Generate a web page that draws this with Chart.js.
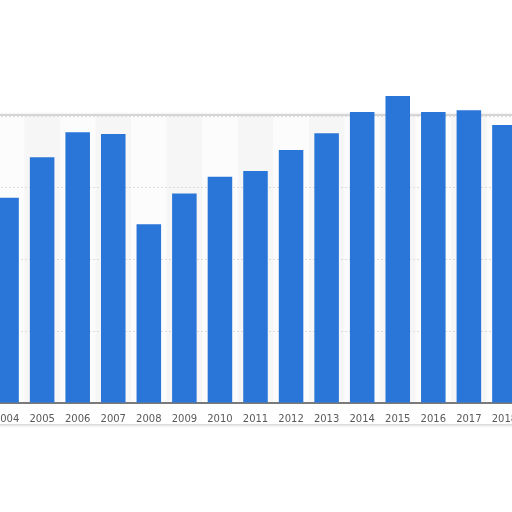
<!DOCTYPE html>
<html><head><meta charset="utf-8">
<script src="https://cdn.jsdelivr.net/npm/chart.js@4"></script>
<style>
html,body{margin:0;padding:0;width:512px;height:512px;overflow:hidden;background:#fff;}
#wrap{position:absolute;left:-16px;top:0;width:543px;height:512px;}
</style></head><body>
<div id="wrap"><canvas id="c" width="543" height="512"></canvas></div>
<script>
const years = ['2004','2005','2006','2007','2008','2009','2010','2011','2012','2013','2014','2015','2016','2017','2018'];
const values = [57.2,68.5,75.5,75.0,49.8,58.4,63.1,64.7,70.5,75.2,81.1,85.6,81.1,81.6,77.5];
const yMin = 0, yMax = 80, yStep = 20;

const framePlugin = {
  id:'frame',
  beforeDraw(chart){
    const {ctx, chartArea:a, scales:{x}} = chart;
    ctx.save();
    ctx.shadowColor='rgba(0,0,0,0.25)';
    ctx.shadowBlur=3;
    ctx.shadowOffsetY=1;
    ctx.fillStyle='#ffffff';
    ctx.fillRect(a.left, a.top-2, a.right-a.left, a.bottom-a.top+23);
    ctx.restore();
    ctx.save();
    ctx.fillStyle='#fcfcfc';
    ctx.fillRect(a.left, a.top, a.right-a.left, a.bottom-a.top);
    const w = (a.right-a.left)/years.length;
    years.forEach((y,i)=>{
      if(i%2===1){
        ctx.fillStyle='#f6f6f6';
        const cx = x.getPixelForValue(i);
        ctx.fillRect(cx-w/2, a.top, w, a.bottom-a.top);
      }
    });
    ctx.strokeStyle='#c8c8c8';
    ctx.lineWidth=1.5;
    ctx.beginPath();ctx.moveTo(a.left,a.top-1);ctx.lineTo(a.right,a.top-1);ctx.stroke();
    ctx.restore();
  }
};

new Chart(document.getElementById('c'),{
  type:'bar',
  data:{labels:years,datasets:[{data:values,backgroundColor:'#2a75d8',borderWidth:0,categoryPercentage:1,barPercentage:0.69,clip:false}]},
  options:{
    responsive:false,animation:false,devicePixelRatio:1,
    layout:{padding:{top:116,left:0,right:0,bottom:0}},
    plugins:{legend:{display:false},tooltip:{enabled:false}},
    scales:{
      x:{
        grid:{display:false,drawTicks:false},
        border:{display:true,color:'#7a7a7a',width:2},
        ticks:{color:'#5a5a5a',font:{family:'DejaVu Sans',size:10},padding:10,maxRotation:0,autoSkip:false},
        afterFit(s){s.height=109;}
      },
      y:{
        min:yMin,max:yMax,
        ticks:{display:false,stepSize:yStep},
        grid:{color:'#dcdcdc',drawTicks:false,lineWidth:1},
        border:{display:false,dash:[2,2]},
        afterFit(s){s.width=0;}
      }
    }
  },
  plugins:[framePlugin]
});
</script></body></html>
